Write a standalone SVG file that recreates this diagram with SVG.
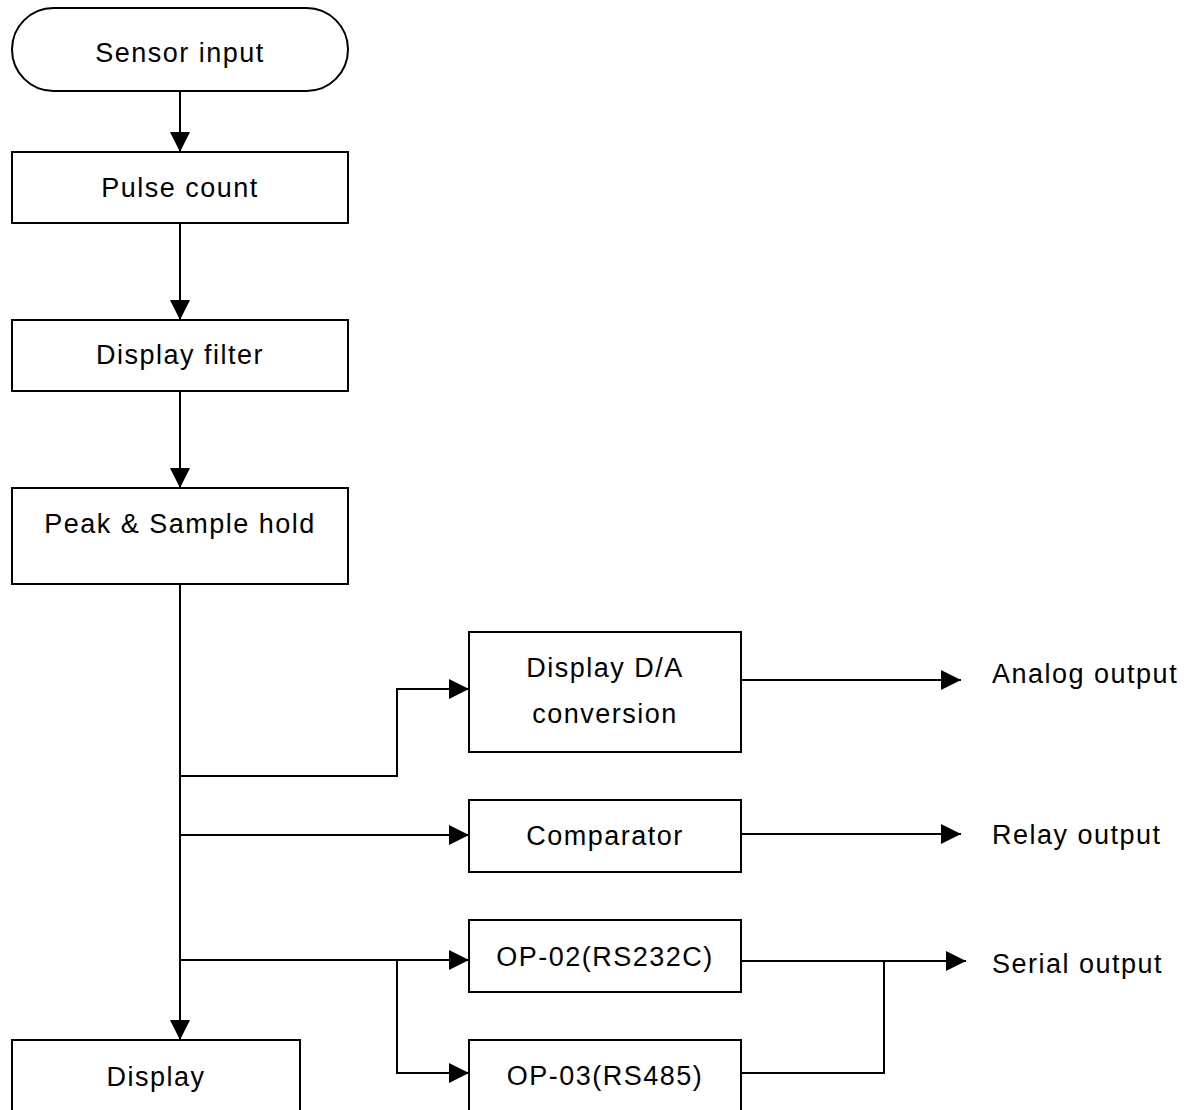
<svg xmlns="http://www.w3.org/2000/svg" width="1198" height="1110" viewBox="0 0 1198 1110">
<style>
.box{fill:#fff;stroke:#000;stroke-width:2}
.t{font-family:"Liberation Sans",Arial,sans-serif;font-size:27px;letter-spacing:1.5px;fill:#000;text-anchor:middle}
.l{text-anchor:start}
.c{fill:none;stroke:#000;stroke-width:2}
</style>
<defs>
<marker id="ah" viewBox="0 0 20 20" refX="20" refY="10" markerWidth="20" markerHeight="20" markerUnits="userSpaceOnUse" orient="auto">
<path d="M0,0 L20,10 L0,20 z" fill="#000"/>
</marker>
</defs>
<rect width="1198" height="1110" fill="#fff"/>
<g id="connectors">
<path class="c" d="M180,91 V152" marker-end="url(#ah)"/>
<path class="c" d="M180,223 V320" marker-end="url(#ah)"/>
<path class="c" d="M180,391 V488" marker-end="url(#ah)"/>
<path class="c" d="M180,584 V1040" marker-end="url(#ah)"/>
<path class="c" d="M180,776 H397 V689 H469" marker-end="url(#ah)"/>
<path class="c" d="M180,835 H469" marker-end="url(#ah)"/>
<path class="c" d="M180,960 H469" marker-end="url(#ah)"/>
<path class="c" d="M397,960 V1073 H469" marker-end="url(#ah)"/>
<path class="c" d="M738,680 H961" marker-end="url(#ah)"/>
<path class="c" d="M741,834 H961" marker-end="url(#ah)"/>
<path class="c" d="M741,961 H966" marker-end="url(#ah)"/>
<path class="c" d="M741,1073 H884 V961"/>
</g>
<g id="sensor-input">
<rect class="box" x="12" y="8" width="336" height="83" rx="41.5" ry="41.5"/>
<text class="t" x="180" y="62">Sensor input</text>
</g>
<g id="pulse-count">
<rect class="box" x="12" y="152" width="336" height="71"/>
<text class="t" x="180" y="197">Pulse count</text>
</g>
<g id="display-filter">
<rect class="box" x="12" y="320" width="336" height="71"/>
<text class="t" x="180" y="364">Display filter</text>
</g>
<g id="peak-sample-hold">
<rect class="box" x="12" y="488" width="336" height="96"/>
<text class="t" x="180" y="533">Peak &amp; Sample hold</text>
</g>
<g id="display-da">
<rect class="box" x="469" y="632" width="272" height="120"/>
<text class="t" x="605" y="677">Display D/A</text>
<text class="t" x="605" y="723">conversion</text>
</g>
<g id="comparator">
<rect class="box" x="469" y="800" width="272" height="72"/>
<text class="t" x="605" y="845">Comparator</text>
</g>
<g id="op-02">
<rect class="box" x="469" y="920" width="272" height="72"/>
<text class="t" x="605" y="966">OP-02(RS232C)</text>
</g>
<g id="op-03">
<rect class="box" x="469" y="1040" width="272" height="80"/>
<text class="t" x="605" y="1085">OP-03(RS485)</text>
</g>
<g id="display">
<rect class="box" x="12" y="1040" width="288" height="80"/>
<text class="t" x="156" y="1086">Display</text>
</g>
<g id="analog-output"><text class="t l" x="992" y="683">Analog output</text></g>
<g id="relay-output"><text class="t l" x="992" y="844">Relay output</text></g>
<g id="serial-output"><text class="t l" x="992" y="973">Serial output</text></g>
</svg>
